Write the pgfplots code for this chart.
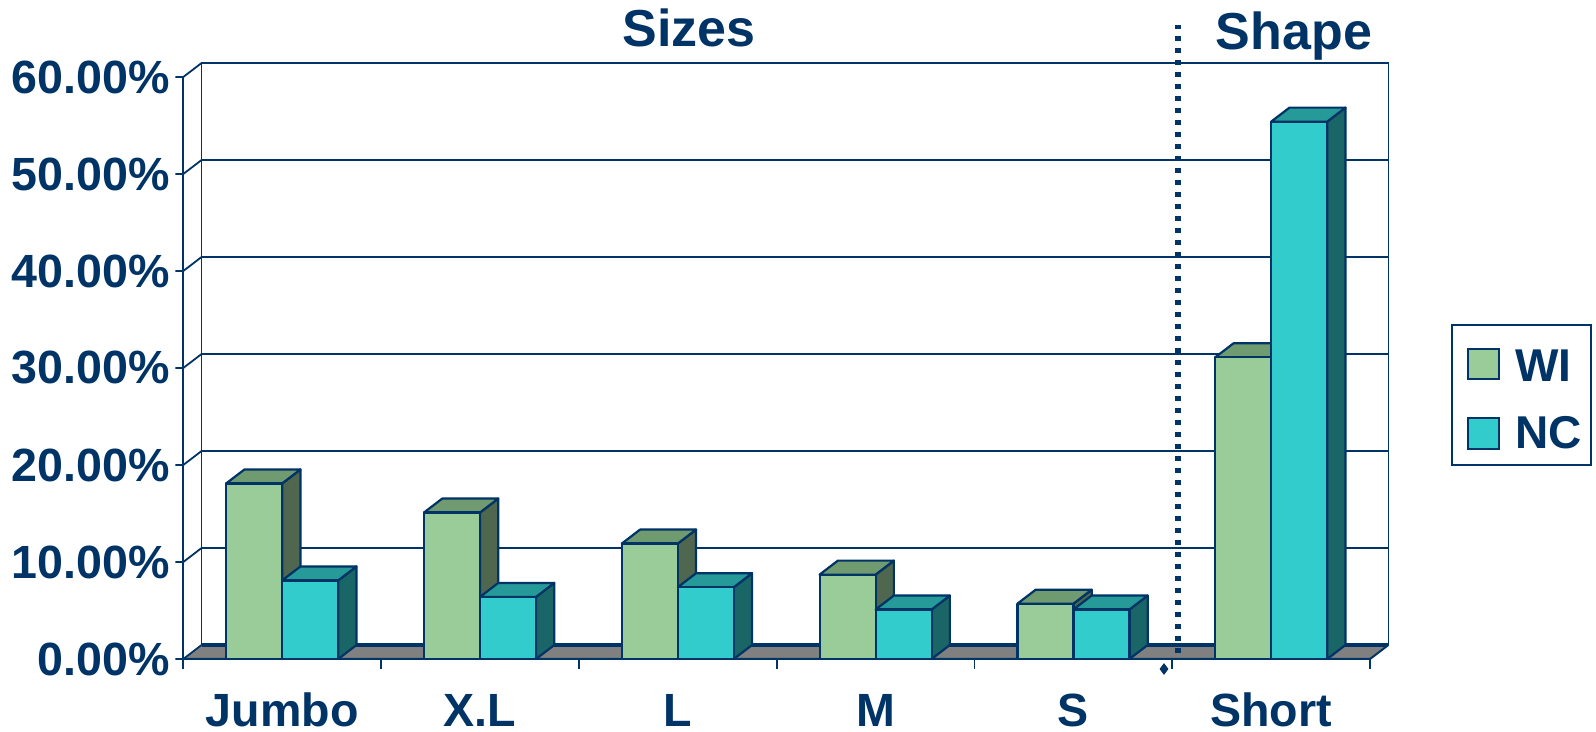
\documentclass[border=0pt]{standalone}
\usepackage{fontspec}
\setmainfont{Liberation Sans}
\usepackage{pgfplots}
\pgfplotsset{compat=1.18}

\definecolor{navy}{RGB}{0,51,102}
\definecolor{wiF}{RGB}{153,204,153}
\definecolor{wiT}{RGB}{112,155,112}
\definecolor{wiS}{RGB}{79,102,79}
\definecolor{ncF}{RGB}{51,204,204}
\definecolor{ncT}{RGB}{38,153,153}
\definecolor{ncS}{RGB}{26,102,102}
\definecolor{floorgray}{RGB}{128,128,128}

% bar width and depth offset of the pseudo-3D boxes (axis units)
\def\barw{0.2831}
\def\bdx{0.0925}
\def\bdy{1.443}

\tikzset{barline/.style={draw=navy, line width=1.1pt, line join=round}}

% #1 left edge, #2 value, #3 front, #4 top, #5 side colour
\newcommand\barthreed[5]{%
  \pgfmathsetmacro\xA{#1}%
  \pgfmathsetmacro\xB{#1+\barw}%
  \pgfmathsetmacro\xC{#1+\barw+\bdx}%
  \pgfmathsetmacro\xD{#1+\bdx}%
  \pgfmathsetmacro\yT{#2}%
  \pgfmathsetmacro\yU{#2+\bdy}%
  \edef\doplots{%
    \noexpand\addplot[forget plot, barline, fill=#5] coordinates {(\xB,0) (\xC,\bdy) (\xC,\yU) (\xB,\yT)} -- cycle;
    \noexpand\addplot[forget plot, barline, fill=#4] coordinates {(\xA,\yT) (\xB,\yT) (\xC,\yU) (\xD,\yU)} -- cycle;
    \noexpand\addplot[forget plot, barline, fill=#3] coordinates {(\xA,0) (\xB,0) (\xB,\yT) (\xA,\yT)} -- cycle;
  }\doplots
}

\begin{document}
\begin{tikzpicture}
\begin{axis}[
  scale only axis, width=602.55pt, height=298pt,
  xmin=0, xmax=6.0925, ymin=0, ymax=61.443,
  clip=false,
  axis line style={draw=none},
  major tick length=0pt, tick style={draw=none},
  xtick={0.5,1.5,2.5,3.5,4.5,5.5},
  xticklabels={Jumbo,X.L,L,M,S,Short},
  ytick={0,10,...,60},
  yticklabels={0.00\%,10.00\%,20.00\%,30.00\%,40.00\%,50.00\%,60.00\%},
  ticklabel style={font=\fontsize{23.3}{28}\selectfont\bfseries, text=navy, inner sep=0pt},
  xticklabel style={anchor=base, yshift=-33.6pt},
  yticklabel style={anchor=east, xshift=-6.65pt},
]
% back wall with gridlines
\pgfplotsinvokeforeach{10,20,30,40,50}{
  \draw[navy, line width=0.8pt] (axis cs:\bdx,#1+\bdy) -- (axis cs:6.0925,#1+\bdy);
}
\draw[navy, line width=0.9pt] (axis cs:\bdx,\bdy) -- (axis cs:\bdx,61.443)
  -- (axis cs:6.0925,61.443) -- (axis cs:6.0925,\bdy);
% floor
\fill[floorgray] (axis cs:0,0) -- (axis cs:6,0) -- (axis cs:6.0925,\bdy) -- (axis cs:\bdx,\bdy) -- cycle;
\draw[navy, line width=1.6pt] (axis cs:\bdx,\bdy) -- (axis cs:6.0925,\bdy);
\draw[navy, line width=1pt] (axis cs:0,0) -- (axis cs:6,0) -- (axis cs:6.0925,\bdy);
% front value axis with ticks and depth connectors
\draw[navy, line width=1pt] (axis cs:0,-1.03) -- (axis cs:0,60);
\pgfplotsinvokeforeach{0,10,...,60}{
  \draw[navy, line width=0.9pt] (axis cs:-0.0404,#1) -- (axis cs:0,#1) -- (axis cs:\bdx,#1+\bdy);
}
\pgfplotsinvokeforeach{1,...,6}{
  \draw[navy, line width=0.9pt] (axis cs:#1,0) -- (axis cs:#1,-1.03);
}

% bars: WI and NC for each category
\barthreed{0.2169}{18.1}{wiF}{wiT}{wiS}
\barthreed{0.5}{8.1}{ncF}{ncT}{ncS}
\barthreed{1.2169}{15.1}{wiF}{wiT}{wiS}
\barthreed{1.5}{6.4}{ncF}{ncT}{ncS}
\barthreed{2.2169}{11.9}{wiF}{wiT}{wiS}
\barthreed{2.5}{7.4}{ncF}{ncT}{ncS}
\barthreed{3.2169}{8.7}{wiF}{wiT}{wiS}
\barthreed{3.5}{5.1}{ncF}{ncT}{ncS}
\barthreed{4.2169}{5.7}{wiF}{wiT}{wiS}
\barthreed{4.5}{5.1}{ncF}{ncT}{ncS}
\barthreed{5.2169}{31.1}{wiF}{wiT}{wiS}
\barthreed{5.5}{55.4}{ncF}{ncT}{ncS}

% separator between sizes and shape
\addplot[forget plot, navy, line width=2.7pt, line cap=butt, dash pattern=on 2.7pt off 3.3pt]
  coordinates {(5.029,0.6) (5.029,65.4)};
\addplot[forget plot, only marks, mark=diamond*, mark size=2.6pt, navy]
  coordinates {(4.958,-1.03)};
\end{axis}

% group titles
\node[anchor=base, inner sep=0pt, font=\fontsize{26}{30}\selectfont\bfseries, text=navy]
  at (252.85pt,306.2pt) {Sizes};
\node[anchor=base, inner sep=0pt, font=\fontsize{26}{30}\selectfont\bfseries, text=navy]
  at (555.35pt,304.5pt) {Shape};

% legend
\draw[navy, line width=1pt] (634.2pt,97pt) rectangle (703.7pt,167pt);
\draw[navy, line width=1pt, fill=wiF] (642.35pt,139.85pt) rectangle (657.85pt,154.85pt);
\draw[navy, line width=1pt, fill=ncF] (642.35pt,105pt) rectangle (657.85pt,120.5pt);
\node[anchor=base west, inner sep=0pt, font=\fontsize{23}{28}\selectfont\bfseries, text=navy]
  at (665.85pt,138.65pt) {WI};
\node[anchor=base west, inner sep=0pt, font=\fontsize{23}{28}\selectfont\bfseries, text=navy]
  at (665.85pt,105.35pt) {NC};

\pgfresetboundingbox
\path (-91.65pt,-36.5pt) rectangle (706.35pt,329.5pt);
\end{tikzpicture}
\end{document}
